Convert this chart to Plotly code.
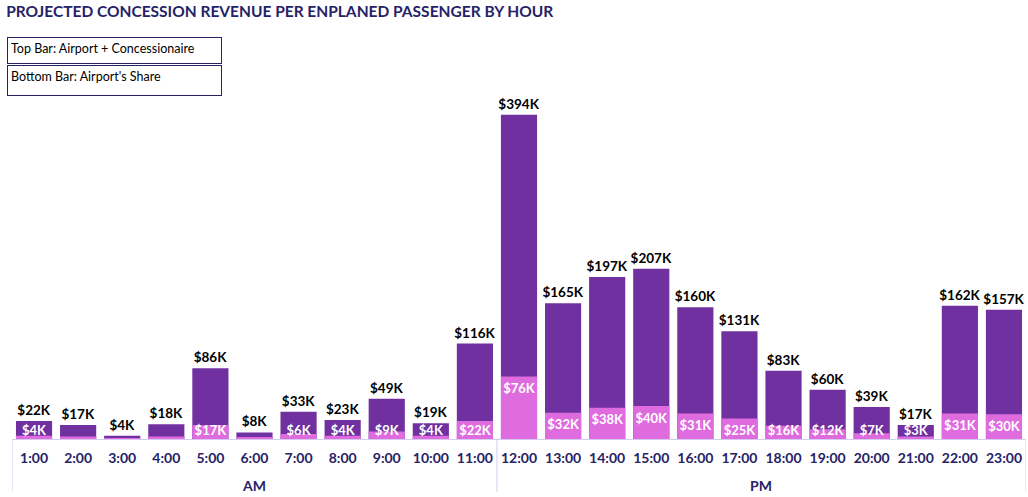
import plotly.graph_objects as go

hours = ["1:00", "2:00", "3:00", "4:00", "5:00", "6:00", "7:00", "8:00", "9:00", "10:00", "11:00",
         "12:00", "13:00", "14:00", "15:00", "16:00", "17:00", "18:00", "19:00", "20:00", "21:00", "22:00", "23:00"]
periods = ["AM"] * 11 + ["PM"] * 12
total_k = [22, 17, 4, 18, 86, 8, 33, 23, 49, 19, 116, 394, 165, 197, 207, 160, 131, 83, 60, 39, 17, 162, 157]
share_k = [4, 3, 1, 3, 17, 2, 6, 4, 9, 4, 22, 76, 32, 38, 40, 31, 25, 16, 12, 7, 3, 31, 30]
share_label_shown = [True, False, False, False, True, False, True, True, True, True, True,
                     True, True, True, True, True, True, True, True, True, True, True, True]

FONT = "Lato"
NAVY = "#262266"
DARK = "#7030a0"
PINK = "#de6cde"
LAV = "#d3ccf0"

fig = go.Figure()
fig.add_trace(go.Bar(
    x=hours, y=total_k, marker=dict(color=DARK, line=dict(width=0)),
    text=[f"<b>${v}K</b>" for v in total_k], textposition="outside", textangle=0,
    constraintext="none",
    textfont=dict(family=FONT, size=13.5, color="#000000"),
    cliponaxis=False, width=0.82, hoverinfo="skip"))
fig.add_trace(go.Bar(
    x=hours, y=share_k, marker=dict(color=PINK, line=dict(width=0)),
    width=0.82, hoverinfo="skip"))

# airport-share labels: just inside the top of the pink bar, kept above the baseline
label_y = [max(v - 16, 8.5) for v in share_k]
fig.add_trace(go.Scatter(
    x=hours, y=label_y, mode="text",
    text=[f"<b>${v}K</b>" if s else "" for v, s in zip(share_k, share_label_shown)],
    textposition="middle center",
    textfont=dict(family=FONT, size=13, color="#ffffff"),
    hoverinfo="skip"))

fig.update_layout(
    width=1028, height=497,
    margin=dict(l=12, r=2, t=100, b=58),
    barmode="overlay",
    showlegend=False,
    plot_bgcolor="white", paper_bgcolor="white",
    title=dict(text="<b>PROJECTED CONCESSION REVENUE PER ENPLANED PASSENGER BY HOUR</b>",
               x=0.006, xanchor="left", y=0.976, yanchor="middle", pad=dict(l=0, t=0),
               font=dict(family=FONT, size=15.5, color=NAVY)),
    xaxis=dict(type="category", showline=True, linecolor=LAV, linewidth=1,
               tickfont=dict(family=FONT, size=14, color=NAVY, weight="bold"),
               ticklabelstandoff=6, range=[-0.5, len(hours) - 0.5],
               showgrid=False, ticks=""),
    yaxis=dict(range=[0, 412], visible=False, showgrid=False),
)

# AM / PM group labels and dividers
n_am = periods.count("AM")
n_pm = periods.count("PM")
for name, start, n in [("AM", 0, n_am), ("PM", n_am, n_pm)]:
    fig.add_annotation(x=start + (n - 1) / 2, xref="x", y=-0.136, yref="paper",
                       text=f"<b>{name}</b>", showarrow=False, yanchor="middle",
                       font=dict(family=FONT, size=14, color=NAVY))
for b in [-0.5, n_am - 0.5, len(hours) - 0.5]:
    fig.add_shape(type="line", xref="x", yref="paper", x0=b, x1=b, y0=0, y1=-0.155,
                  line=dict(color=LAV, width=1))

for txt, ytop, h in [("Top Bar: Airport + Concessionaire", 1.186, 19),
                     ("Bottom Bar: Airport's Share", 1.103, 23)]:
    fig.add_annotation(
        xref="paper", yref="paper", x=-0.0045, y=ytop, xanchor="left", yanchor="top",
        text=txt, showarrow=False, align="left", valign="top",
        width=207, height=h, borderpad=3, bordercolor=NAVY, borderwidth=1,
        font=dict(family=FONT, size=12.5, color="#000000"))

fig.write_html("out.html", config={"displayModeBar": False},
               post_script="document.body.style.margin='0';document.body.style.overflow='hidden';")
